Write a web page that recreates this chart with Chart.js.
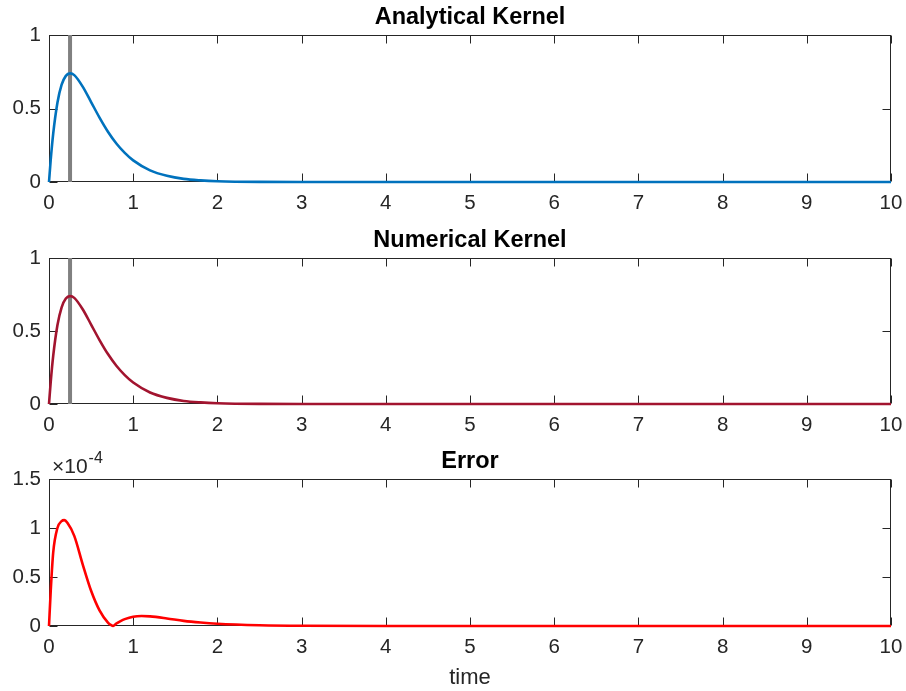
<!DOCTYPE html>
<html>
<head>
<meta charset="utf-8">
<script src="https://cdn.jsdelivr.net/npm/chart.js@4.4.0/dist/chart.umd.min.js"></script>
<style>
  body { margin: 0; background: #fff; }
  #wrap { position: relative; width: 906px; height: 691px; }
  canvas { position: absolute; left: 0; }
</style>
</head>
<body>
<div id="wrap">
  <canvas id="c1" width="906" height="223" style="top:0"></canvas>
  <canvas id="c2" width="906" height="222" style="top:223px"></canvas>
  <canvas id="c3" width="906" height="247" style="top:444px"></canvas>
</div>
<script>
// kernel samples (time, value)
const timeK = [0, 0.02, 0.05, 0.1, 0.15, 0.2, 0.25, 0.3, 0.4, 0.5, 0.6, 0.7, 0.8, 0.9, 1.0,
  1.2, 1.4, 1.6, 1.8, 2.0, 2.5, 3, 4, 5, 6, 7, 8, 9, 10];
const analytical = [0, 0.148, 0.329, 0.539, 0.662, 0.722, 0.739, 0.727, 0.649, 0.544, 0.438,
  0.342, 0.262, 0.198, 0.147, 0.079, 0.042, 0.021, 0.011, 0.0054, 0.0009, 0.0002, 0, 0, 0, 0, 0, 0, 0];
const numerical = [0, 0.148, 0.329, 0.539, 0.662, 0.722, 0.739, 0.727, 0.649, 0.544, 0.438,
  0.342, 0.262, 0.198, 0.147, 0.079, 0.042, 0.021, 0.011, 0.0054, 0.0009, 0.0002, 0, 0, 0, 0, 0, 0, 0];

// absolute error, in units of 1e-4
const timeErr = [0, 0.02, 0.05, 0.1, 0.15, 0.18, 0.22, 0.3, 0.4, 0.5, 0.6, 0.7, 0.74, 0.76,
  0.78, 0.8, 0.85, 0.9, 1.0, 1.1, 1.2, 1.4, 1.6, 1.8, 2.0, 2.5, 3, 4, 5, 6, 7, 8, 9, 10];
const errorE4 = [0, 0.35, 0.75, 1.0, 1.07, 1.08, 1.05, 0.92, 0.63, 0.36, 0.16, 0.035, 0.008, 0,
  0.01, 0.025, 0.05, 0.07, 0.095, 0.102, 0.098, 0.077, 0.052, 0.035, 0.023, 0.008, 0.002, 0, 0, 0, 0, 0, 0, 0];

const peakTime = [0.25, 0.25];
const peakSpan = [0, 1];

const xTicks = [0, 1, 2, 3, 4, 5, 6, 7, 8, 9, 10];
const yTicksK = [0, 0.5, 1];
const yTicksE = [0, 0.5, 1, 1.5];

const FONT = "'Liberation Sans', Arial, Helvetica, sans-serif";
const AXIS = '#262626';

function pairs(xs, ys) {
  return xs.map((x, i) => ({ x: x, y: ys[i] }));
}

// MATLAB-like box with inward ticks on all four sides
const boxFrame = {
  id: 'boxFrame',
  beforeDatasetsDraw(chart) {
    const { ctx, chartArea: a, scales: { x, y } } = chart;
    const L = Math.round(a.left) + 0.5, R = Math.round(a.right) - 0.5;
    const T = Math.round(a.top) + 0.5, B = Math.round(a.bottom) - 0.5;
    ctx.save();
    ctx.strokeStyle = AXIS;
    ctx.lineWidth = 1;
    ctx.strokeRect(L, T, R - L, B - T);
    ctx.beginPath();
    x.ticks.forEach(t => {
      const px = Math.round(x.getPixelForValue(t.value)) + 0.5;
      ctx.moveTo(px, B); ctx.lineTo(px, B - 8);
      ctx.moveTo(px, T); ctx.lineTo(px, T + 8);
    });
    y.ticks.forEach(t => {
      const py = Math.round(y.getPixelForValue(t.value)) + 0.5;
      ctx.moveTo(L, py); ctx.lineTo(L + 8, py);
      ctx.moveTo(R, py); ctx.lineTo(R - 8, py);
    });
    ctx.stroke();
    ctx.restore();
  }
};

// bold title centred over the plot box
const boxTitle = {
  id: 'boxTitle',
  afterDraw(chart, args, opts) {
    const { ctx, chartArea: a } = chart;
    ctx.save();
    ctx.fillStyle = '#000';
    ctx.font = 'bold 23.5px ' + FONT;
    ctx.textAlign = 'center';
    ctx.textBaseline = 'alphabetic';
    ctx.fillText(opts.text, (a.left + a.right) / 2, a.top - 11);
    ctx.restore();
  }
};

// exponent marker above the y axis
const exponentLabel = {
  id: 'exponentLabel',
  afterDraw(chart) {
    const { ctx, chartArea: a } = chart;
    ctx.save();
    ctx.fillStyle = AXIS;
    ctx.textBaseline = 'alphabetic';
    ctx.textAlign = 'left';
    ctx.font = '21px ' + FONT;
    const base = a.top - 6;
    ctx.fillText('\u00d710', a.left + 3, base);
    const w = ctx.measureText('\u00d710').width;
    ctx.font = '16px ' + FONT;
    ctx.fillText('-4', a.left + 4 + w, base - 10);
    ctx.restore();
  }
};

function makeChart(id, title, datasets, yTicks, yMax, xTitle, extraPlugins) {
  const xAxisHeight = xTitle ? 65 : 41;
  return new Chart(document.getElementById(id), {
    type: 'line',
    data: { datasets: datasets },
    options: {
      responsive: false,
      animation: false,
      devicePixelRatio: 1,
      layout: { padding: { left: 0, right: 15, top: 35, bottom: 0 } },
      elements: { point: { radius: 0 } },
      plugins: {
        legend: { display: false },
        tooltip: { enabled: false },
        title: { display: false },
        boxTitle: { text: title }
      },
      scales: {
        x: {
          type: 'linear',
          min: 0,
          max: 10,
          grid: { display: false, drawTicks: false },
          border: { display: false },
          afterBuildTicks: s => { s.ticks = xTicks.map(v => ({ value: v })); },
          ticks: {
            color: AXIS,
            padding: 9,
            maxRotation: 0,
            autoSkip: false,
            font: { family: FONT, size: 20.5 },
            callback: v => String(v)
          },
          title: {
            display: !!xTitle,
            text: xTitle || '',
            color: AXIS,
            font: { family: FONT, size: 22 },
            padding: { top: 0, bottom: 0 }
          },
          afterFit: s => { s.height = xAxisHeight; s.paddingLeft = 0; s.paddingRight = 0; }
        },
        y: {
          type: 'linear',
          min: 0,
          max: yMax,
          grid: { display: false, drawTicks: false },
          border: { display: false },
          afterBuildTicks: s => { s.ticks = yTicks.map(v => ({ value: v })); },
          ticks: {
            color: AXIS,
            padding: 8,
            font: { family: FONT, size: 20.5 },
            callback: v => String(v)
          },
          afterFit: s => { s.width = 49; s.paddingTop = 0; s.paddingBottom = 0; }
        }
      }
    },
    plugins: [boxFrame, boxTitle].concat(extraPlugins || [])
  });
}

function curve(points, color) {
  return {
    data: points,
    borderColor: color,
    borderWidth: 2.6,
    cubicInterpolationMode: 'monotone',
    fill: false,
    clip: 6
  };
}

function marker() {
  return {
    data: pairs(peakTime, peakSpan),
    borderColor: '#808080',
    borderWidth: 4,
    fill: false,
    clip: 6
  };
}

makeChart('c1', 'Analytical Kernel',
  [curve(pairs(timeK, analytical), '#0072BD'), marker()], yTicksK, 1, null);

makeChart('c2', 'Numerical Kernel',
  [curve(pairs(timeK, numerical), '#A2142F'), marker()], yTicksK, 1, null);

makeChart('c3', 'Error',
  [curve(pairs(timeErr, errorE4), '#FF0000')], yTicksE, 1.5, 'time', [exponentLabel]);
</script>
</body>
</html>
